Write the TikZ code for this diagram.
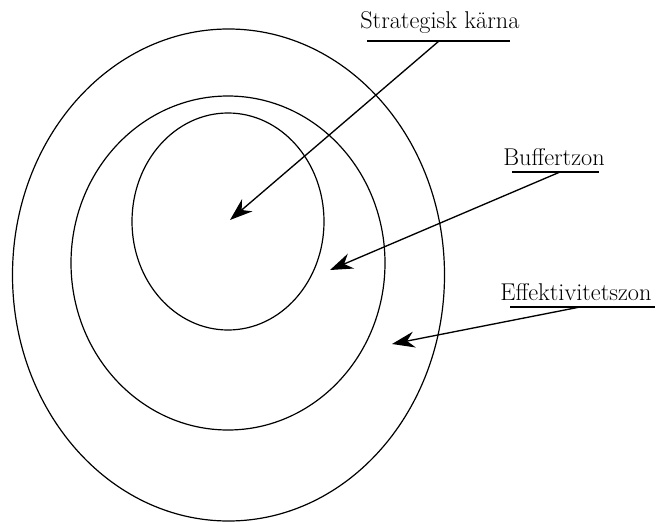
\documentclass[tikz,border=0pt]{standalone}
\usetikzlibrary{arrows.meta}
\begin{document}
\begin{tikzpicture}[x=0.75pt,y=-0.75pt,
  zone/.style={draw, line width=0.9pt},
  lbl/.style={anchor=base west, inner sep=0pt, font=\fontsize{18.2}{22}\selectfont},
  uline/.style={line width=1.1pt},
  pointer/.style={line width=1pt, -{Stealth[length=17pt,width=12pt,inset=5.5pt]}}]
\useasboundingbox (0,0) rectangle (667,521);

% three nested zones
\draw[zone] (228.5,275) ellipse [x radius=216, y radius=246];
\draw[zone] (228,263) ellipse [x radius=157, y radius=167];
\draw[zone] (228,221.5) ellipse [x radius=96, y radius=108.5];

% labels with underlines
\node[lbl] (core) at (360,28) {Strategisk kärna};
\coordinate (coreL) at (367,41);
\coordinate (coreR) at (510,41);
\coordinate (coreS) at (439,41);
\coordinate (coreT) at (230,220);

\node[lbl] (buffer) at (503,165) {Buffertzon};
\coordinate (bufL) at (512,172);
\coordinate (bufR) at (599,172);
\coordinate (bufS) at (560,172);
\coordinate (bufT) at (330,270);

\node[lbl] (eff) at (500,300) {Effektivitetszon};
\coordinate (effL) at (510,307);
\coordinate (effR) at (655,307);
\coordinate (effS) at (580,307);
\coordinate (effT) at (392,344);

\draw[uline] (coreL) -- (coreR);
\draw[uline] (bufL) -- (bufR);
\draw[uline] (effL) -- (effR);

% pointers into the zones
\draw[pointer] (coreS) -- (coreT);
\draw[pointer] (bufS) -- (bufT);
\draw[pointer] (effS) -- (effT);
\end{tikzpicture}
\end{document}
